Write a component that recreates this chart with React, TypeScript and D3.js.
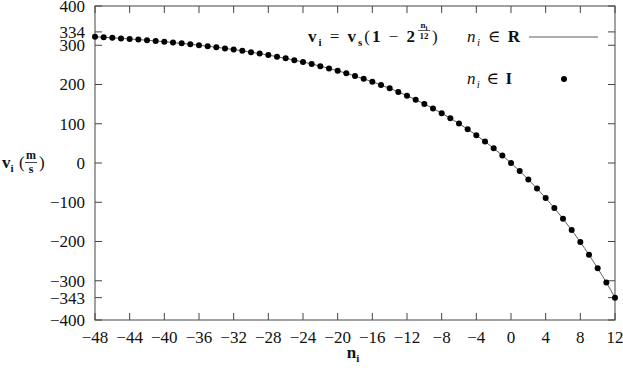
import React, { useLayoutEffect, useRef, useState } from "react";
import * as d3 from "d3";

// n_i (semitone steps) and v_i in m/s
const steps = [
  -48, -47, -46, -45, -44, -43, -42, -41, -40, -39, -38, -37, -36, -35, -34, -33,
  -32, -31, -30, -29, -28, -27, -26, -25, -24, -23, -22, -21, -20, -19, -18, -17,
  -16, -15, -14, -13, -12, -11, -10, -9, -8, -7, -6, -5, -4, -3, -2, -1, 0, 1, 2,
  3, 4, 5, 6, 7, 8, 9, 10, 11, 12,
];
const speeds = [
  321.6, 320.3, 318.9, 317.5, 316.0, 314.4, 312.7, 310.9, 309.0, 306.9, 304.8,
  302.5, 300.1, 297.6, 294.9, 292.0, 289.0, 285.8, 282.4, 278.8, 274.9, 270.9,
  266.6, 262.1, 257.3, 252.2, 246.7, 241.0, 235.0, 228.5, 221.7, 214.5, 206.9,
  198.8, 190.2, 181.1, 171.5, 161.3, 150.5, 139.1, 126.9, 114.1, 100.5, 86.0,
  70.8, 54.6, 37.4, 19.3, 0, -20.4, -42.0, -64.9, -89.2, -114.8, -142.1, -170.9,
  -201.5, -233.9, -268.2, -304.5, -343.0,
];
const xTicks = [-48, -44, -40, -36, -32, -28, -24, -20, -16, -12, -8, -4, 0, 4, 8, 12];
const yTicks = [400, 334, 300, 200, 100, 0, -100, -200, -300, -343, -400];

const W = 623;
const H = 370;
const left = 95;
const right = 615;
const top = 6;
const bottom = 320;
const ink = "#444";
const font = "'Liberation Serif', 'DejaVu Serif', serif";

const fmt = (v: number) => (v < 0 ? "\u2212" + Math.abs(v) : String(v));

export default function App() {
  const x = d3.scaleLinear().domain([-48, 12]).range([left, right]);
  const y = d3.scaleLinear().domain([-400, 400]).range([bottom, top]);
  const pts = steps.map((n, i) => [n, speeds[i]] as [number, number]);

  // curve for n_i in R
  const line = d3
    .line<[number, number]>()
    .x((d) => x(d[0]))
    .y((d) => y(d[1]))
    .curve(d3.curveMonotoneX);

  const tickLen = 7;

  // measure the formula so the exponent sits right after the "2"
  const formulaRef = useRef<SVGTextElement>(null);
  const [fw, setFw] = useState(107);
  useLayoutEffect(() => {
    if (formulaRef.current) setFw(formulaRef.current.getComputedTextLength());
  }, []);
  const fx = 308;
  const expX = fx + fw + 9;

  return (
    <svg
      width={W}
      height={H}
      style={{ position: "absolute", left: 0, top: 0, background: "#fff", fontFamily: font }}
    >
      {/* frame */}
      <rect x={left} y={top} width={right - left} height={bottom - top} fill="none" stroke={ink} strokeWidth={1} />

      {/* y ticks, both sides */}
      {yTicks.map((t) => (
        <g key={"y" + t}>
          <line x1={left} x2={left + tickLen} y1={y(t)} y2={y(t)} stroke={ink} />
          <line x1={right} x2={right - tickLen} y1={y(t)} y2={y(t)} stroke={ink} />
          <text x={left - 10} y={y(t)} dy="0.35em" textAnchor="end" fontSize={17} fill="#111">
            {fmt(t)}
          </text>
        </g>
      ))}

      {/* x ticks, bottom and top */}
      {xTicks.map((t) => (
        <g key={"x" + t}>
          <line x1={x(t)} x2={x(t)} y1={bottom} y2={bottom - tickLen} stroke={ink} />
          <line x1={x(t)} x2={x(t)} y1={top} y2={top + tickLen} stroke={ink} />
          <text x={x(t)} y={bottom + 23} textAnchor="middle" fontSize={17} fill="#111">
            {fmt(t)}
          </text>
        </g>
      ))}

      {/* continuous curve */}
      <path d={line(pts) || ""} fill="none" stroke="#333" strokeWidth={0.8} />

      {/* integer points */}
      {pts.map((d) => (
        <circle key={d[0]} cx={x(d[0])} cy={y(d[1])} r={3} fill="#000" />
      ))}

      {/* axis labels */}
      <text x={353} y={358} textAnchor="middle" fontSize={17} fontWeight="bold" fill="#111">
        n<tspan fontSize={11} dy={4}>i</tspan>
      </text>
      <g fill="#111" fontSize={17}>
        <text x={2} y={168} fontWeight="bold">
          v<tspan fontSize={11} dy={4}>i</tspan>
        </text>
        <text x={19} y={168}>(</text>
        <text x={31} y={159} fontSize={12} fontWeight="bold" textAnchor="middle">m</text>
        <line x1={25} x2={37} y1={162.5} y2={162.5} stroke="#111" strokeWidth={0.8} />
        <text x={31} y={173} fontSize={12} fontWeight="bold" textAnchor="middle">s</text>
        <text x={39} y={168}>)</text>
      </g>

      {/* legend */}
      <g fill="#111" fontSize={17}>
        <text
          ref={formulaRef}
          x={fx}
          y={42}
          textLength={fw > 0 ? 107 : undefined}
          lengthAdjust="spacing"
          style={{ whiteSpace: "pre" }}
        >
          <tspan fontWeight="bold">v</tspan>
          <tspan fontWeight="bold" fontSize={11} dy={4}>i</tspan>
          <tspan dy={-4}>{" = "}</tspan>
          <tspan fontWeight="bold">v</tspan>
          <tspan fontWeight="bold" fontSize={11} dy={4}>s</tspan>
          <tspan dy={-4}>(</tspan>
          <tspan fontWeight="bold">1</tspan>
          <tspan>{" \u2212 "}</tspan>
          <tspan fontWeight="bold">2</tspan>
        </text>
        <text x={424} y={28} fontSize={9} fontWeight="bold" textAnchor="middle">
          n<tspan fontSize={7} dy={2}>i</tspan>
        </text>
        <line x1={418} x2={430} y1={30.5} y2={30.5} stroke="#111" strokeWidth={0.7} />
        <text x={424} y={38.5} fontSize={9} fontWeight="bold" textAnchor="middle">12</text>
        <text x={432} y={42}>)</text>

        <text x={467} y={42} textLength={53} lengthAdjust="spacing" style={{ whiteSpace: "pre" }}>
          <tspan fontStyle="italic">n</tspan>
          <tspan fontStyle="italic" fontSize={11} dy={4}>i</tspan>
          <tspan dy={-4}>{" \u2208 "}</tspan>
          <tspan fontWeight="bold">R</tspan>
        </text>
        <line x1={529} x2={598} y1={37} y2={37} stroke="#333" strokeWidth={0.8} />

        <text x={467} y={84} textLength={45} lengthAdjust="spacing" style={{ whiteSpace: "pre" }}>
          <tspan fontStyle="italic">n</tspan>
          <tspan fontStyle="italic" fontSize={11} dy={4}>i</tspan>
          <tspan dy={-4}>{" \u2208 "}</tspan>
          <tspan fontWeight="bold">I</tspan>
        </text>
        <circle cx={564} cy={79} r={3} fill="#000" />
      </g>
    </svg>
  );
}
